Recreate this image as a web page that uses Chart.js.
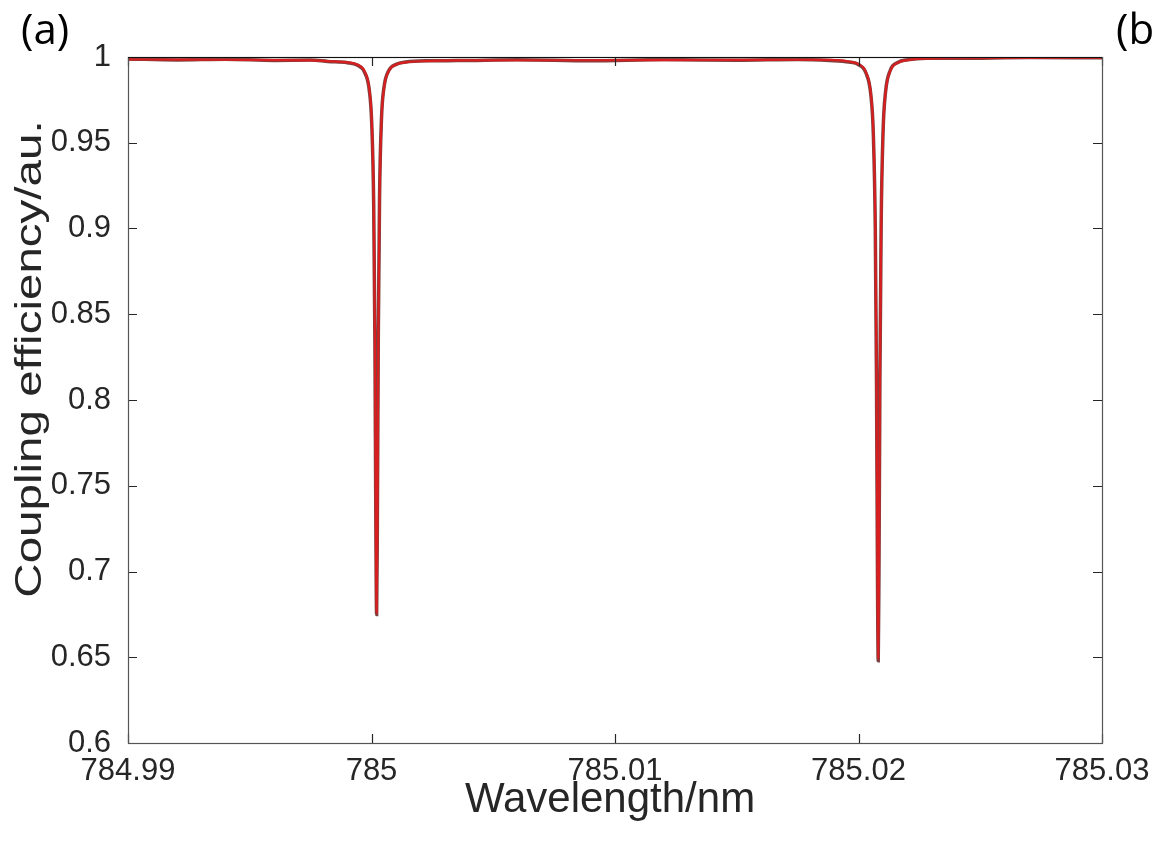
<!DOCTYPE html>
<html>
<head>
<meta charset="utf-8">
<script src="https://cdn.jsdelivr.net/npm/chart.js@4"></script>
<style>
  body { margin: 0; background: #fff; }
</style>
</head>
<body>
<canvas id="spectre" width="1160" height="847"></canvas>
<script>
// axes
var xTicks = [784.99, 785.00, 785.01, 785.02, 785.03];
var xTickLabels = ['784.99', '785', '785.01', '785.02', '785.03'];
var yTicks = [0.6, 0.65, 0.7, 0.75, 0.8, 0.85, 0.9, 0.95, 1];
var yTickLabels = ['0.6', '0.65', '0.7', '0.75', '0.8', '0.85', '0.9', '0.95', '1'];

// longueur d'onde (nm)
var wavelength = [784.99, 784.992, 784.994, 784.996, 784.9975, 784.99821, 784.99901, 784.99941, 784.99971, 784.99991,
  785.00001, 785.00009, 785.00014, 785.00018, 785.00021, 785.00024, 785.00028, 785.00033, 785.00041, 785.00051,
  785.00071, 785.00101, 785.00141, 785.00221, 785.0035, 785.006, 785.009, 785.012, 785.015, 785.0175,
  785.01881, 785.01961, 785.02001, 785.02031, 785.02051, 785.02061, 785.02069, 785.02074, 785.02078, 785.02081,
  785.02084, 785.02088, 785.02093, 785.02101, 785.02111, 785.02131, 785.02161, 785.02201, 785.02281, 785.024,
  785.027, 785.03];

// mesure (noir)
var measured = [0.9989, 0.9983, 0.9987, 0.9980, 0.9982, 0.9974, 0.9967, 0.9953, 0.9912, 0.9805,
  0.9610, 0.9140, 0.8350, 0.7240, 0.675, 0.7270, 0.8390, 0.9175, 0.9640, 0.9820,
  0.9921, 0.9957, 0.9971, 0.9978, 0.9979, 0.9984, 0.9978, 0.9985, 0.9981, 0.9986,
  0.9980, 0.9971, 0.9955, 0.9905, 0.9775, 0.9545, 0.8990, 0.8100, 0.6960, 0.648,
  0.6990, 0.8140, 0.9020, 0.9570, 0.9795, 0.9924, 0.9968, 0.9984, 0.9993, 0.9992,
  0.9997, 0.9995];

// ajustement (rouge)
var fitted = [0.9986, 0.9985, 0.9984, 0.9982, 0.9980, 0.9976, 0.9969, 0.9956, 0.9918, 0.9814,
  0.9628, 0.9161, 0.8368, 0.7256, 0.676, 0.7256, 0.8368, 0.9161, 0.9628, 0.9814,
  0.9918, 0.9956, 0.9969, 0.9976, 0.998, 0.9981, 0.9981, 0.9982, 0.9983, 0.9984,
  0.9983, 0.9974, 0.9958, 0.9911, 0.9783, 0.9557, 0.9007, 0.8121, 0.6977, 0.6495,
  0.6977, 0.8121, 0.9007, 0.956, 0.979, 0.992, 0.9966, 0.9982, 0.9991, 0.9994,
  0.9995, 0.9996];

function points(ys) {
  return wavelength.map(function(x, i) { return { x: x, y: ys[i] }; });
}

var textColor = '#262626';
var font = '"Liberation Sans", Arial, sans-serif';

// cadre + graduations vers l'intérieur (style Matlab) + textes
var boxPlugin = {
  id: 'box',
  afterDatasetsDraw: function(chart) {
    var c = chart.ctx, a = chart.chartArea;
    var sx = chart.scales.x, sy = chart.scales.y;
    c.save();
    c.lineWidth = 1.2;
    c.strokeStyle = textColor;
    c.beginPath();
    xTicks.forEach(function(v) {
      var px = Math.round(sx.getPixelForValue(v)) + 0.5;
      c.moveTo(px, a.bottom); c.lineTo(px, a.bottom - 9);
      c.moveTo(px, a.top); c.lineTo(px, a.top + 9);
    });
    yTicks.forEach(function(v) {
      var py = Math.round(sy.getPixelForValue(v)) + 0.5;
      c.moveTo(a.left, py); c.lineTo(a.left + 9, py);
      c.moveTo(a.right, py); c.lineTo(a.right - 9, py);
    });
    c.stroke();
    c.strokeStyle = '#555';
    c.strokeRect(a.left + 0.5, a.top + 0.5, a.right - a.left, a.bottom - a.top);
    c.strokeStyle = '#111';
    c.beginPath();
    c.moveTo(a.left, a.top + 0.5); c.lineTo(a.right, a.top + 0.5);
    c.stroke();

    c.fillStyle = textColor;
    c.font = '42px ' + font;
    c.textAlign = 'center';
    c.textBaseline = 'middle';
    c.fillText('Wavelength/nm', 610, 800);
    c.save();
    c.translate(31, 359);
    c.rotate(-Math.PI / 2);
    c.scale(1.32, 1);
    c.font = '36px ' + font;
    c.fillText('Coupling efficiency/au.', 0, 0);
    c.restore();

    c.fillStyle = '#000';
    c.font = '42px "Open Sans", sans-serif';
    c.textAlign = 'left';
    c.textBaseline = 'alphabetic';
    c.fillText('(a)', 21, 44);
    c.fillText('(b', 1116, 44);
    c.restore();
  }
};

var ctx = document.getElementById('spectre').getContext('2d');
var chart = new Chart(ctx, {
  type: 'line',
  data: {
    datasets: [{
      label: 'mesure',
      data: points(measured),
      borderColor: 'rgba(80,0,0,0.75)',
      borderWidth: 3.5,
      pointRadius: 0,
      cubicInterpolationMode: 'monotone',
      order: 2
    }, {
      label: 'ajustement',
      data: points(fitted),
      borderColor: '#d81e1e',
      borderWidth: 2.2,
      pointRadius: 0,
      cubicInterpolationMode: 'monotone',
      order: 1
    }]
  },
  options: {
    responsive: false,
    animation: false,
    devicePixelRatio: 1,
    layout: { padding: { left: 0, right: 58, top: 57, bottom: 0 } },
    plugins: { legend: { display: false }, tooltip: { enabled: false } },
    scales: {
      x: {
        type: 'linear',
        min: 784.99,
        max: 785.03,
        afterBuildTicks: function(scale) {
          scale.ticks = xTicks.map(function(v) { return { value: v }; });
        },
        afterFit: function(scale) { scale.height = 104; },
        grid: { display: false },
        border: { display: false },
        ticks: {
          autoSkip: false,
          maxRotation: 0,
          padding: 2,
          color: textColor,
          font: { family: font, size: 31 },
          callback: function(v, i) { return xTickLabels[i]; }
        }
      },
      y: {
        min: 0.6,
        max: 1,
        afterBuildTicks: function(scale) {
          scale.ticks = yTicks.map(function(v) { return { value: v }; });
        },
        afterFit: function(scale) { scale.width = 128; },
        grid: { display: false },
        border: { display: false },
        ticks: {
          autoSkip: false,
          padding: 9,
          color: textColor,
          font: { family: font, size: 31 },
          callback: function(v, i) { return yTickLabels[i]; }
        }
      }
    }
  },
  plugins: [boxPlugin]
});
</script>
</body>
</html>
